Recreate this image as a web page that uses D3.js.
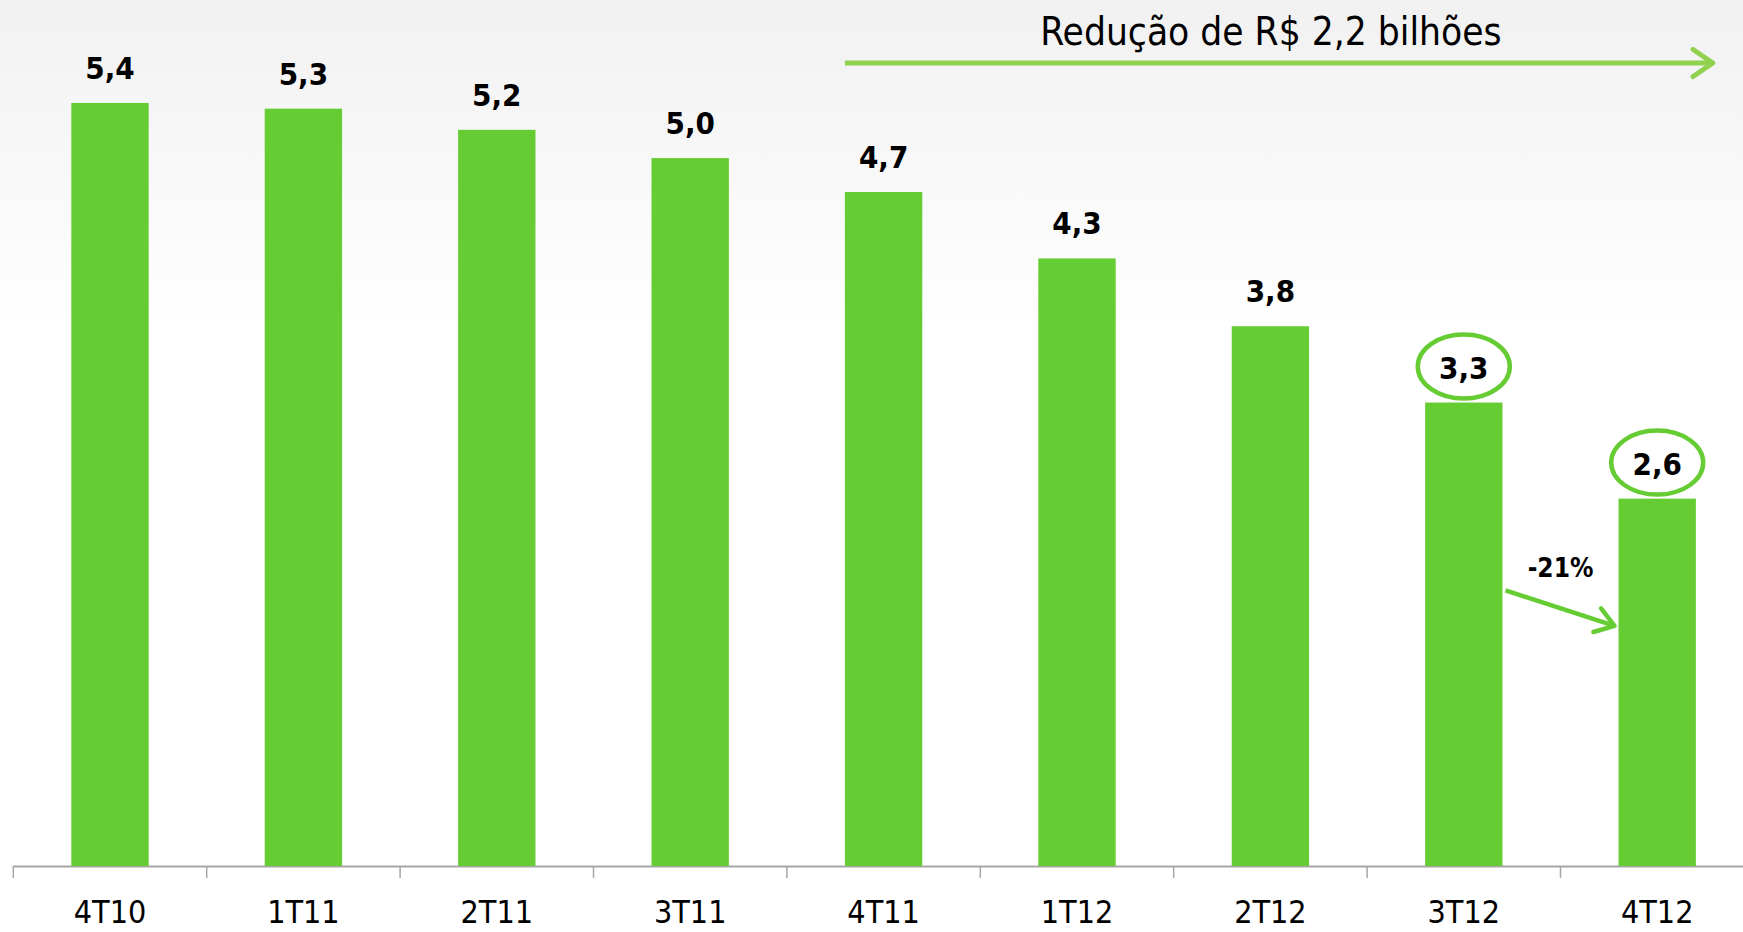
<!DOCTYPE html>
<html>
<head>
<meta charset="utf-8">
<script src="https://cdn.jsdelivr.net/npm/d3@7"></script>
<style>
  body { margin: 0; background: #fff; overflow: hidden; }
</style>
</head>
<body>
<div id="chart"></div>
<script>
var categories = ["4T10", "1T11", "2T11", "3T11", "4T11", "1T12", "2T12", "3T12", "4T12"];
// bar heights; printed labels are the rounded figures
var values = [5.40, 5.36, 5.21, 5.01, 4.77, 4.30, 3.82, 3.28, 2.60];
var valueLabels = ["5,4", "5,3", "5,2", "5,0", "4,7", "4,3", "3,8", "3,3", "2,6"];
var circled = ["3T12", "4T12"];
var titleText = "Redução de R$ 2,2 bilhões";
var changeText = "-21%";
// arrow between the last two bars, in data values (start, end, label)
var changeLevels = [1.95, 1.70, 2.11];

var width = 1743, height = 932;
var green = "#66cc33", lightGreen = "#92d050";
var font = "'DejaVu Sans Condensed', 'DejaVu Sans', sans-serif";

var svg = d3.select("#chart").append("svg")
    .attr("width", width)
    .attr("height", height);

var grad = svg.append("defs").append("linearGradient")
    .attr("id", "bg")
    .attr("x1", 0).attr("y1", 0).attr("x2", 0).attr("y2", 1);
grad.append("stop").attr("offset", "0%").attr("stop-color", "#f1f1f1");
grad.append("stop").attr("offset", "35%").attr("stop-color", "#ffffff");
grad.append("stop").attr("offset", "100%").attr("stop-color", "#ffffff");

svg.append("rect")
    .attr("width", width)
    .attr("height", height)
    .attr("fill", "url(#bg)");

var x = d3.scaleBand()
    .domain(categories)
    .range([13.3, 13.3 + 9 * 193.4])
    .paddingInner(0.6)
    .paddingOuter(0.3);

var y = d3.scaleLinear()
    .domain([0, 6])
    .range([866, 866 - 6 * 141.3]);

var step = x.step();
var bw = x.bandwidth();

// axis: line, ticks at band edges, labels centred
var xAxis = d3.axisBottom(x).tickSize(0).tickPadding(34);
var ax = svg.append("g")
    .attr("transform", "translate(0," + y(0) + ")")
    .call(xAxis);
ax.select(".domain").remove();
ax.selectAll("text")
    .attr("font-family", font)
    .attr("font-size", 32)
    .attr("fill", "#000");

svg.append("line")
    .attr("x1", x.range()[0])
    .attr("x2", width)
    .attr("y1", y(0) + 0.5)
    .attr("y2", y(0) + 0.5)
    .attr("stroke", "#a6a6a6")
    .attr("stroke-width", 2);

svg.selectAll(".tick-edge")
    .data(d3.range(categories.length + 1))
    .enter().append("line")
    .attr("class", "tick-edge")
    .attr("x1", function(i) { return x.range()[0] + i * step; })
    .attr("x2", function(i) { return x.range()[0] + i * step; })
    .attr("y1", y(0))
    .attr("y2", y(0) + 12)
    .attr("stroke", "#a6a6a6")
    .attr("stroke-width", 1.5);

var rows = categories.map(function(c, i) {
    return { cat: c, value: values[i], label: valueLabels[i] };
});

svg.selectAll(".bar")
    .data(rows)
    .enter().append("rect")
    .attr("class", "bar")
    .attr("x", function(d) { return x(d.cat); })
    .attr("width", bw)
    .attr("y", function(d) { return y(d.value); })
    .attr("height", function(d) { return y(0) - y(d.value); })
    .attr("fill", green);

svg.selectAll(".ring")
    .data(rows.filter(function(d) { return circled.indexOf(d.cat) >= 0; }))
    .enter().append("ellipse")
    .attr("class", "ring")
    .attr("cx", function(d) { return x(d.cat) + bw / 2; })
    .attr("cy", function(d) { return y(d.value) - 36; })
    .attr("rx", 46)
    .attr("ry", 32)
    .attr("fill", "#fff")
    .attr("stroke", green)
    .attr("stroke-width", 4.5);

svg.selectAll(".val")
    .data(rows)
    .enter().append("text")
    .attr("class", "val")
    .attr("x", function(d) { return x(d.cat) + bw / 2; })
    .attr("y", function(d) { return y(d.value) - 24; })
    .attr("text-anchor", "middle")
    .attr("font-family", font)
    .attr("font-weight", "bold")
    .attr("font-size", 31)
    .attr("fill", "#000")
    .text(function(d) { return d.label; });

function chevron(x1, y1, x2, y2, len, ang) {
    var a = Math.atan2(y2 - y1, x2 - x1);
    var p1 = [x2 - len * Math.cos(a - ang), y2 - len * Math.sin(a - ang)];
    var p2 = [x2 - len * Math.cos(a + ang), y2 - len * Math.sin(a + ang)];
    return "M" + p1 + "L" + [x2, y2] + "L" + p2;
}

// total reduction arrow
var ax1 = x("4T11"), ax2 = x("4T12") + bw + 17, ay = 63;
svg.append("line")
    .attr("x1", ax1).attr("x2", ax2 - 2)
    .attr("y1", ay).attr("y2", ay)
    .attr("stroke", lightGreen)
    .attr("stroke-width", 5);
svg.append("path")
    .attr("d", chevron(ax1, ay, ax2, ay, 24, 0.6))
    .attr("fill", "none")
    .attr("stroke", lightGreen)
    .attr("stroke-width", 5)
    .attr("stroke-linecap", "round")
    .attr("stroke-linejoin", "round");

svg.append("text")
    .attr("x", (ax1 + ax2) / 2 - 8)
    .attr("y", 45)
    .attr("text-anchor", "middle")
    .attr("font-family", font)
    .attr("font-size", 38.5)
    .attr("fill", "#000")
    .text(titleText);

// -21% arrow
var cx1 = x("3T12") + bw + 3, cy1 = y(changeLevels[0]);
var cx2 = x("4T12") - 4, cy2 = y(changeLevels[1]);
svg.append("line")
    .attr("x1", cx1).attr("y1", cy1)
    .attr("x2", cx2).attr("y2", cy2)
    .attr("stroke", green)
    .attr("stroke-width", 4.5);
svg.append("path")
    .attr("d", chevron(cx1, cy1, cx2, cy2, 22, 0.6))
    .attr("fill", "none")
    .attr("stroke", green)
    .attr("stroke-width", 4.5)
    .attr("stroke-linecap", "round")
    .attr("stroke-linejoin", "round");

svg.append("text")
    .attr("x", (x("3T12") + bw + x("4T12")) / 2)
    .attr("y", y(changeLevels[2]) + 9)
    .attr("text-anchor", "middle")
    .attr("font-family", font)
    .attr("font-weight", "bold")
    .attr("font-size", 26)
    .attr("fill", "#000")
    .text(changeText);
</script>
</body>
</html>
